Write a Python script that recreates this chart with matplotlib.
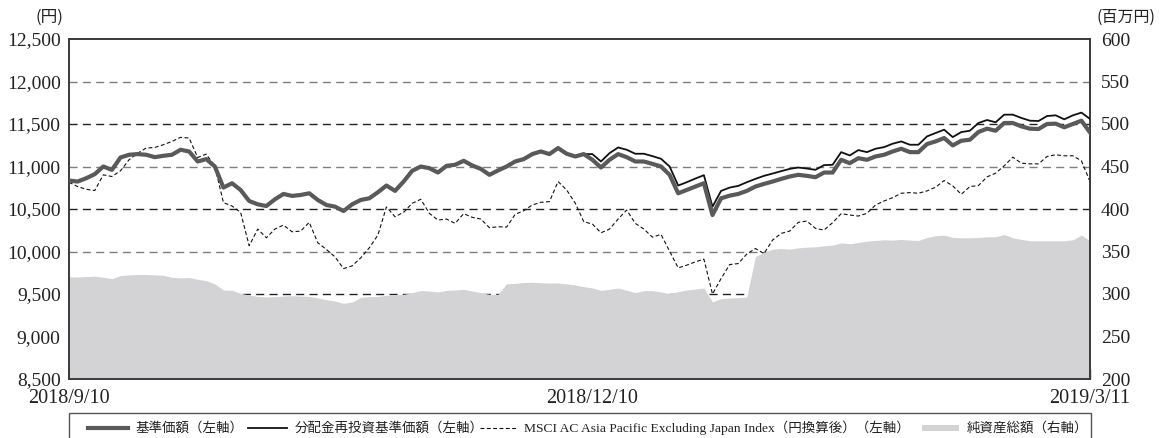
import matplotlib
matplotlib.use("Agg")
import matplotlib.pyplot as plt
from matplotlib.lines import Line2D
from matplotlib.patches import Rectangle
import numpy as np

# ---------------- data ----------------
x_tick_labels = ["2018/9/10", "2018/12/10", "2019/3/11"]
x_tick_index = [0, 61, 119]

base_price = [10835, 10823, 10862, 10910, 11000, 10960, 11106, 11138, 11146, 11138,
              11110, 11126, 11138, 11197, 11177, 11059, 11087, 11000, 10752, 10803,
              10724, 10594, 10555, 10535, 10614, 10677, 10654, 10665, 10685, 10606,
              10547, 10528, 10476, 10555, 10606, 10626, 10697, 10776, 10713, 10823,
              10949, 11000, 10980, 10929, 11008, 11020, 11067, 11012, 10972, 10902,
              10953, 11000, 11059, 11087, 11146, 11177, 11146, 11217, 11150, 11118,
              11146, 11079, 10988, 11079, 11146, 11110, 11059, 11059, 11031, 11000,
              10902, 10685, 10724, 10764, 10803, 10429, 10626, 10657, 10677, 10713,
              10764, 10795, 10823, 10854, 10882, 10902, 10890, 10874, 10929, 10929,
              11079, 11039, 11098, 11079, 11118, 11138, 11177, 11209, 11169, 11169,
              11264, 11295, 11335, 11248, 11303, 11315, 11406, 11445, 11421, 11512,
              11512, 11472, 11445, 11441, 11500, 11504, 11461, 11500, 11539, 11400]

reinvest_after = [11146, 11059, 11157, 11224, 11197, 11150, 11150, 11122, 11091, 11000,
                  10776, 10815, 10858, 10898, 10527, 10713, 10752, 10772, 10815,
                  10854, 10890, 10917, 10945, 10972, 10988, 10976, 10961, 11016, 11020,
                  11169, 11130, 11193, 11169, 11209, 11228, 11268, 11295, 11256, 11256,
                  11354, 11394, 11433, 11346, 11405, 11421, 11512, 11547, 11520, 11610,
                  11610, 11571, 11539, 11535, 11594, 11602, 11555, 11602, 11634, 11560]
reinvest_price = base_price[:61] + reinvest_after

msci_index = [10815, 10764, 10732, 10717, 10902, 10882, 10949, 11079, 11157, 11217,
              11224, 11256, 11295, 11343, 11335, 11106, 11146, 11000, 10575, 10535,
              10461, 10067, 10264, 10161, 10264, 10311, 10232, 10240, 10343, 10102,
              10024, 9937, 9799, 9831, 9925, 10043, 10193, 10524, 10409, 10461,
              10567, 10614, 10449, 10370, 10382, 10331, 10445, 10402, 10382, 10280,
              10291, 10287, 10437, 10480, 10547, 10579, 10587, 10823, 10724, 10570,
              10350, 10323, 10220, 10264, 10382, 10488, 10331, 10264, 10169, 10201,
              10004, 9807, 9839, 9878, 9910, 9500, 9681, 9846, 9858, 9970,
              10035, 9976, 10134, 10213, 10240, 10343, 10358, 10272, 10252, 10339,
              10445, 10429, 10417, 10449, 10547, 10594, 10634, 10685, 10693, 10685,
              10713, 10756, 10835, 10772, 10673, 10764, 10776, 10878, 10921, 11008,
              11110, 11039, 11031, 11031, 11118, 11138, 11126, 11126, 11067, 10823]

net_assets = [320.1, 320.0, 320.5, 321.0, 319.7, 318.0, 321.7, 322.5, 323.0, 323.0,
              322.5, 322.0, 319.7, 319.0, 319.4, 317.3, 315.7, 311.8, 304.7, 304.3,
              300.8, 298.8, 297.2, 296.5, 296.9, 297.6, 298.0, 297.6, 297.2, 295.3,
              293.3, 291.7, 289.0, 290.6, 296.1, 296.9, 297.2, 298.4, 298.8, 299.6,
              301.6, 304.0, 303.5, 302.4, 304.3, 304.7, 305.5, 303.5, 301.6, 299.6,
              299.6, 312.0, 312.5, 313.5, 313.8, 313.2, 312.8, 313.0, 311.8, 310.6,
              308.7, 307.1, 304.3, 305.5, 307.1, 304.3, 301.6, 304.0, 304.0, 302.4,
              300.4, 302.8, 304.7, 305.9, 307.1, 290.6, 294.5, 295.3, 295.7, 296.5,
              344.1, 348.8, 352.8, 353.5, 352.8, 354.3, 355.1, 355.5, 356.7, 357.5,
              360.2, 359.1, 360.6, 362.2, 363.0, 363.8, 363.4, 364.2, 363.4, 363.0,
              366.5, 368.5, 369.3, 366.5, 366.1, 366.1, 366.5, 367.3, 367.3, 370.0,
              366.1, 364.2, 362.6, 362.6, 362.6, 362.6, 362.6, 363.8, 369.3, 362.6]

left_ticks = [8500, 9000, 9500, 10000, 10500, 11000, 11500, 12000, 12500]
right_ticks = [200, 250, 300, 350, 400, 450, 500, 550, 600]

legend_labels = ["基準価額（左軸）", "分配金再投資基準価額（左軸）",
                 "MSCI AC Asia Pacific Excluding Japan Index（円換算後）（左軸）",
                 "純資産総額（右軸）"]

# ---------------- style ----------------
NUM_FONT = ["Liberation Serif", "Noto Sans CJK JP"]
JP_FONT = ["Noto Sans CJK JP", "DejaVu Sans"]
MIX_FONT = ["Liberation Serif", "Noto Sans CJK JP"]
BASE_COLOR = "#5a5a5a"
AREA_COLOR = "#d3d3d5"
SPINE_COLOR = "#3a3a3a"
TEXT_COLOR = "#222222"

W, H = 1162, 438
fig = plt.figure(figsize=(W / 100, H / 100), dpi=100)

L, R, T, B = 69, 1090, 39, 379
ax2 = fig.add_axes([L / W, (H - B) / H, (R - L) / W, (B - T) / H])
ax = ax2.twinx()
# ax2: right scale (area + grid) behind; ax: left scale lines in front
ax.set_zorder(ax2.get_zorder() + 1)
ax.patch.set_visible(False)

x = np.arange(len(base_price))

# area on right scale
ax2.fill_between(x, 200, net_assets, color=AREA_COLOR, lw=0, zorder=1)
ax2.set_ylim(200, 600)
ax2.set_yticks(right_ticks)
ax2.set_axisbelow(True)
ax2.grid(axis="y", linestyle=(0, (5.8, 3.8)), linewidth=1.0)
grid_colors = {250: "#7f7f7f", 300: "#222222", 350: "#7f7f7f", 400: "#222222",
               450: "#7f7f7f", 500: "#222222", 550: "#7f7f7f"}
for tv, gl in zip(right_ticks, ax2.get_ygridlines()):
    if tv in grid_colors:
        gl.set_color(grid_colors[tv])
    else:
        gl.set_visible(False)

# lines on left scale
ax.plot(x, msci_index, color="#111111", lw=0.8, linestyle=(0, (3.5, 2.2)), zorder=2)
ax.plot(x, reinvest_price, color="#111111", lw=1.3, zorder=3)
ax.plot(x, base_price, color=BASE_COLOR, lw=3.0, zorder=4)
ax.set_ylim(8500, 12500)
ax.set_xlim(0, len(base_price) - 1)

ax.yaxis.tick_left()
ax2.yaxis.tick_right()
ax.set_yticks(left_ticks)
ax.set_yticklabels([f"{v:,}" for v in left_ticks], fontfamily=NUM_FONT, fontsize=14)
ax2.set_yticklabels([str(v) for v in right_ticks], fontfamily=NUM_FONT, fontsize=14)
ax.tick_params(axis="y", length=0, pad=6, colors=TEXT_COLOR)
ax2.tick_params(axis="y", length=0, pad=8, colors=TEXT_COLOR)

ax2.set_xticks(x_tick_index)
ax2.set_xticklabels(x_tick_labels, fontfamily=NUM_FONT, fontsize=14.5)
ax2.tick_params(axis="x", direction="in", length=7, width=1, color=SPINE_COLOR,
                pad=7, colors=TEXT_COLOR)
ax.tick_params(axis="x", length=0, labelbottom=False)

for a in (ax, ax2):
    for s in a.spines.values():
        s.set_color(SPINE_COLOR)
        s.set_linewidth(1.2)

# unit labels
def fx(px):
    return px / W

def fy(py):
    return 1 - py / H

fig.text(fx(63), fy(17), "(円)", ha="right", va="center", fontfamily=JP_FONT,
         fontsize=12, color=TEXT_COLOR)
fig.text(fx(1097), fy(17), "(百万円)", ha="left", va="center", fontfamily=JP_FONT,
         fontsize=11.5, color=TEXT_COLOR)

# legend box (manual)
fig.patches.append(Rectangle((fx(69), fy(446)), fx(1091) - fx(69), fy(413) - fy(446),
                             transform=fig.transFigure, fill=False,
                             edgecolor="#555555", lw=1.0))
ly = fy(428)
fig.lines.append(Line2D([fx(88), fx(128)], [ly, ly], transform=fig.transFigure,
                        color=BASE_COLOR, lw=3.0))
fig.lines.append(Line2D([fx(248), fx(287)], [ly, ly], transform=fig.transFigure,
                        color="#111111", lw=1.3))
fig.lines.append(Line2D([fx(480), fx(517)], [ly, ly], transform=fig.transFigure,
                        color="#111111", lw=0.8, linestyle=(0, (3.5, 2.2))))
fig.patches.append(Rectangle((fx(922), fy(431)), fx(959) - fx(922), fy(425) - fy(431),
                             transform=fig.transFigure, color=AREA_COLOR, lw=0))
text_x = [136, 295, 524, 967]
for tx, lab in zip(text_x, legend_labels):
    fig.text(fx(tx), ly, lab, ha="left", va="center", fontfamily=MIX_FONT,
             fontsize=9.7, color=TEXT_COLOR)

fig.savefig("out.png", dpi=100)
